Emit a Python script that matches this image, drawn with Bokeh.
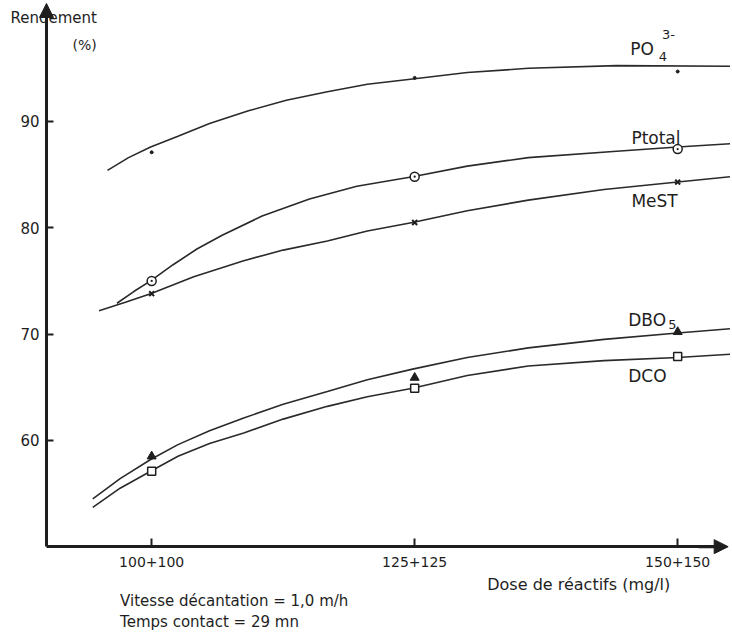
from bokeh.plotting import figure
from bokeh.models import Range1d, FixedTicker, Label, Arrow, NormalHead, LinearAxis
from bokeh.embed import file_html
from bokeh.resources import INLINE

# ---- data ----
doses = [100, 125, 150]
dose_labels = ["100+100", "125+125", "150+150"]
y_ticks = [60, 70, 80, 90]

po4_pts = [87.1, 94.1, 94.7]
ptot_pts = [75.0, 84.8, 87.4]
mest_pts = [73.8, 80.5, 84.3]
dbo5_pts = [58.5, 65.9, 70.2]
dco_pts = [57.1, 64.9, 67.9]

# hand-drawn trend curves
po4_cx = [95.8, 97.8, 99.9, 102.5, 105.5, 109.2, 112.8, 116.7, 120.5, 124.8, 130.0, 135.8, 144.2, 155.0]
po4_cy = [85.4, 86.6, 87.6, 88.6, 89.8, 91.0, 92.0, 92.8, 93.5, 94.0, 94.6, 95.0, 95.25, 95.2]
ptot_cx = [96.7, 98.3, 99.9, 102.0, 104.3, 106.7, 110.5, 115.0, 119.5, 124.8, 130.0, 135.8, 144.2, 150.0, 155.0]
ptot_cy = [72.9, 74.0, 75.0, 76.5, 78.0, 79.3, 81.1, 82.7, 83.9, 84.8, 85.8, 86.6, 87.2, 87.6, 87.9]
mest_cx = [95.0, 97.5, 99.9, 104.0, 108.75, 112.5, 116.7, 120.5, 124.8, 130.0, 135.8, 143.0, 150.0, 155.0]
mest_cy = [72.2, 73.0, 73.8, 75.4, 76.9, 77.9, 78.75, 79.7, 80.5, 81.6, 82.6, 83.6, 84.3, 84.8]
dbo5_cx = [94.4, 97.0, 99.9, 102.5, 105.5, 108.75, 112.5, 116.7, 120.5, 124.8, 130.0, 135.8, 143.0, 150.0, 155.0]
dbo5_cy = [54.5, 56.4, 58.2, 59.6, 60.9, 62.1, 63.4, 64.6, 65.7, 66.7, 67.8, 68.7, 69.5, 70.1, 70.5]
dco_cx = [94.4, 97.0, 99.9, 102.5, 105.5, 108.75, 112.5, 116.7, 120.5, 124.8, 130.0, 135.8, 143.0, 150.0, 155.0]
dco_cy = [53.7, 55.5, 57.1, 58.5, 59.7, 60.7, 62.0, 63.2, 64.1, 64.9, 66.1, 67.0, 67.5, 67.8, 68.1]

INK = "#1e1e1e"
FONT = "DejaVu Sans"

W, H = 730, 634
p = figure(width=W, height=H, output_backend="svg", toolbar_location=None,
           x_range=Range1d(85.63, 85.63 + W / 10.52),
           y_range=Range1d(101.38 - H / 10.63, 101.38),
           x_axis_location=None, y_axis_location=None, min_border=0)
p.outline_line_color = None
p.background_fill_color = "white"
p.border_fill_color = "white"
p.grid.visible = False

yax = LinearAxis(fixed_location=90, bounds=(50, 100.6), ticker=FixedTicker(ticks=y_ticks))
xax = LinearAxis(fixed_location=50, bounds=(90, 154.5), ticker=FixedTicker(ticks=doses))
xax.major_label_overrides = {d: lab for d, lab in zip(doses, dose_labels)}
for ax in (xax, yax):
    ax.axis_line_width = 3
    ax.axis_line_color = INK
    ax.major_tick_line_color = INK
    ax.major_tick_line_width = 2
    ax.minor_tick_line_color = None
    ax.major_tick_out = 0
    ax.major_label_text_font = FONT
    ax.major_label_text_color = INK
yax.major_tick_in = 7
yax.major_label_standoff = 7
yax.major_label_text_font_size = "15px"
xax.major_tick_in = 8
xax.major_label_standoff = 10
xax.major_label_text_font_size = "14px"
p.add_layout(yax, "left")
p.add_layout(xax, "below")

# arrow heads on the axes
p.add_layout(Arrow(end=NormalHead(size=14, fill_color=INK, line_color=INK),
                   x_start=90, y_start=99, x_end=90, y_end=101.1,
                   line_color=INK, line_width=3))
p.add_layout(Arrow(end=NormalHead(size=14, fill_color=INK, line_color=INK),
                   x_start=152, y_start=50, x_end=154.8, y_end=50,
                   line_color=INK, line_width=3))

# curves
for cx, cy in [(po4_cx, po4_cy), (ptot_cx, ptot_cy), (mest_cx, mest_cy),
               (dbo5_cx, dbo5_cy), (dco_cx, dco_cy)]:
    p.line(cx, cy, line_color="#2a2a2a", line_width=1.6)

# markers
p.scatter(doses, po4_pts, marker="circle", size=3, color=INK)
p.scatter(doses, ptot_pts, marker="circle_dot", size=9, fill_color="white",
          line_color=INK, line_width=1.5)
p.scatter(doses, mest_pts, marker="x", size=7, line_color=INK, line_width=2)
p.scatter(doses, dbo5_pts, marker="triangle", size=9, fill_color=INK, line_color=INK)
p.scatter(doses, dco_pts, marker="square", size=8, fill_color="white",
          line_color=INK, line_width=1.5)

def lab(x, y, text, size, align="left", baseline="middle"):
    p.add_layout(Label(x=x, y=y, text=text, text_font=FONT, text_font_size=size,
                       text_color=INK, text_align=align, text_baseline=baseline))

# axis titles
lab(86.58, 99.69, "Rendement", "15px")
lab(92.47, 97.15, "(%)", "14px")

# curve labels
lab(145.5, 96.8, "PO", "17px")
lab(148.2, 96.1, "4", "13px")
lab(148.5, 98.2, "3-", "13px")
lab(145.6, 88.4, "Ptotal", "17px")
lab(145.6, 82.5, "MeST", "17px")
lab(145.3, 71.3, "DBO", "17px")
lab(149.1, 70.9, "5", "13px")
lab(145.3, 66.1, "DCO", "17px")

# texts under the axis
lab(131.9, 46.45, "Dose de réactifs (mg/l)", "16px")
lab(97.0, 44.9, "Vitesse décantation = 1,0 m/h", "15px")
lab(97.0, 42.95, "Temps contact = 29 mn", "15px")

open("out.html", "w").write(file_html(p, INLINE))
